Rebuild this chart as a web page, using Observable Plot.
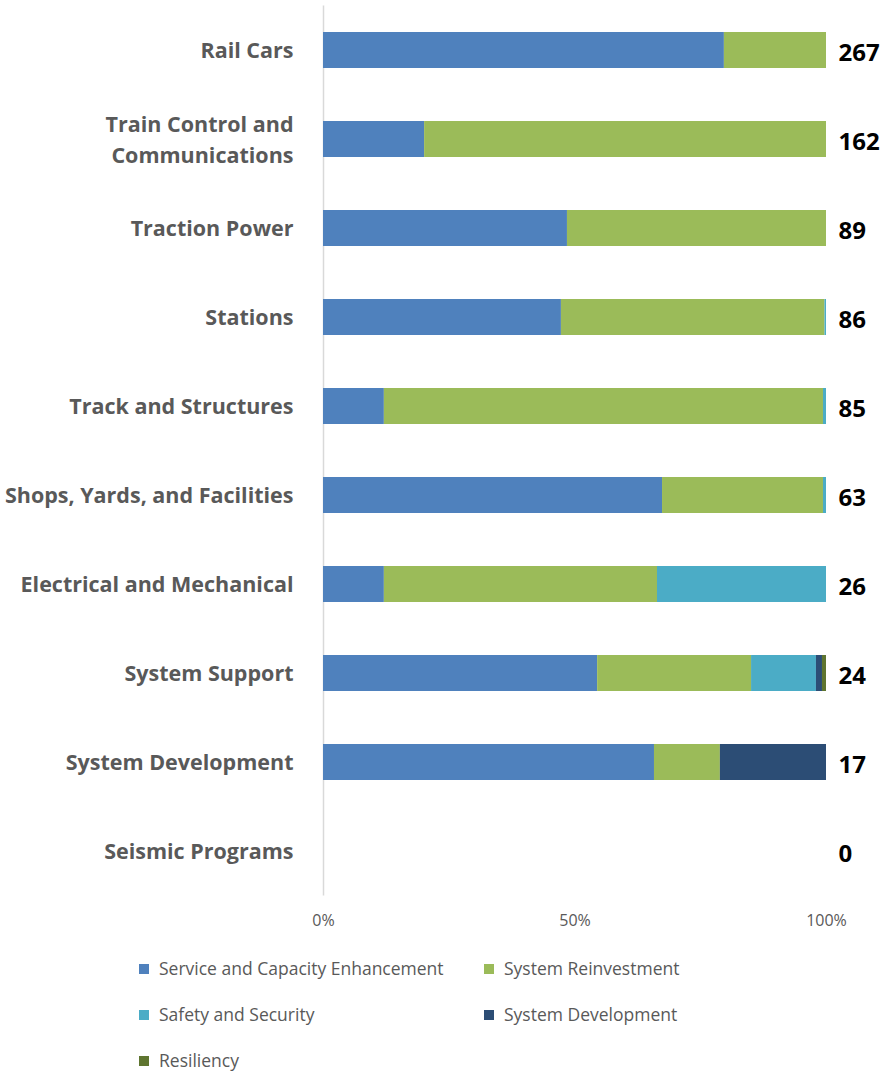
<!DOCTYPE html>
<html><head><meta charset="utf-8">
<script src="https://cdn.jsdelivr.net/npm/d3@7"></script>
<script src="https://cdn.jsdelivr.net/npm/@observablehq/plot@0.6"></script>
<style>
body{margin:0;background:#fff;font-family:"Open Sans",sans-serif;}
#legend{position:relative;height:138px;}
.li{position:absolute;font-size:17.5px;color:#595959;font-family:"Open Sans",sans-serif;white-space:nowrap}
.sw{display:inline-block;width:10px;height:10px;margin-right:10px;vertical-align:1px}
</style></head><body>
<div id="chart"></div>
<div id="legend"></div>
<script>
const categories = ["Rail Cars","Train Control and Communications","Traction Power","Stations","Track and Structures","Shops, Yards, and Facilities","Electrical and Mechanical","System Support","System Development","Seismic Programs"];
const totals = [267,162,89,86,85,63,26,24,17,0];
const series = ["Service and Capacity Enhancement","System Reinvestment","Safety and Security","System Development","Resiliency"];
const colors = ["#4F81BD","#9BBB59","#4BACC6","#2C4D75","#5F7530"];
// percent shares per category
const serviceCapacity = [79.7,20.1,48.5,47.3,12.1,67.4,12.1,54.5,65.8,0];
const reinvestment    = [20.3,79.9,51.5,52.4,87.3,32.0,54.3,30.6,13.1,0];
const safety          = [0,0,0,0.3,0.6,0.6,33.6,12.9,0,0];
const sysDevelopment  = [0,0,0,0,0,0,0,1.2,21.1,0];
const resiliency      = [0,0,0,0,0,0,0,0.8,0,0];
const xTicks = [0,50,100];

const seriesValues = [serviceCapacity,reinvestment,safety,sysDevelopment,resiliency];
const rows = [];
categories.forEach((c,i)=>series.forEach((s,j)=>rows.push({category:c,series:s,value:seriesValues[j][i]})));
const totalRows = categories.map((c,i)=>({category:c,total:totals[i]}));

const labelFmt = d => d==="Train Control and Communications" ? "Train Control and\nCommunications" : d;

const chart = Plot.plot({
  width:880, height:936,
  marginLeft:323, marginRight:54, marginTop:5.5, marginBottom:40.5,
  style:{fontFamily:"'Open Sans', sans-serif", background:"#fff"},
  x:{domain:[0,100], ticks:xTicks, tickFormat:d=>d+"%", label:null},
  y:{domain:categories, paddingInner:0.5955, paddingOuter:0.29775, align:0.5, label:null},
  color:{domain:series, range:colors},
  marks:[
    Plot.ruleX([0],{stroke:"#d9d9d9",strokeWidth:1.5}),
    Plot.barX(rows, Plot.stackX({x:"value", y:"category", fill:"series", order:series})),
    Plot.axisX({ticks:xTicks, tickFormat:d=>d+"%", tickSize:0, tickPadding:19, fontSize:16, fill:"#595959", label:null}),
    Plot.axisY({tickSize:0, tickPadding:30, tickFormat:labelFmt, fontSize:21.5, fontWeight:"bold", fill:"#595959", lineHeight:1.45, dy:-2, label:null}),
    Plot.text(totalRows,{x:()=>100, y:"category", text:d=>String(d.total), dx:12, dy:3, textAnchor:"start", fontSize:24, fontWeight:"bold", fill:"#000"})
  ]
});
document.getElementById("chart").appendChild(chart);

const legend = document.getElementById("legend");
const pos = [[139,969],[484,969],[139,1015],[484,1015],[139,1061]];
series.forEach((s,i)=>{
  const d = document.createElement("div");
  d.className="li";
  d.style.left = pos[i][0]+"px";
  d.style.top = (pos[i][1]-936-13)+"px";
  d.innerHTML = `<span class="sw" style="background:${colors[i]}"></span>${s}`;
  legend.appendChild(d);
});
</script>
</body></html>
